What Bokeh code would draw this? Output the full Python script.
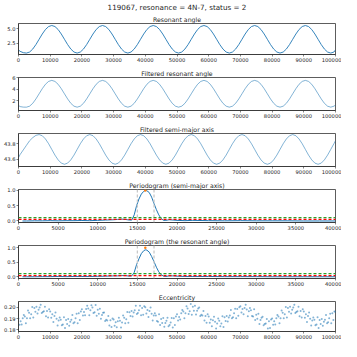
import numpy as np
from bokeh.plotting import figure
from bokeh.models import Title, FixedTicker, PrintfTickFormatter, Range1d, Span
from bokeh.layouts import column
from bokeh.embed import file_html
from bokeh.resources import INLINE

suptitle = "119067, resonance = 4N-7, status = 2"
titles = ["Resonant angle", "Filtered resonant angle", "Filtered semi-major axis",
          "Periodogram (semi-major axis)", "Periodogram (the resonant angle)", "Eccentricity"]

# sample times for the angle / semi-major axis series
t_grid = [0] + list(range(500, 100000, 1000)) + [100000]

angle = [1.30, 1.05, 0.82,
         0.75, 0.93, 1.45, 2.23, 3.15, 4.07, 4.85, 5.37, 5.55, 5.37, 4.85, 4.07, 3.15, 2.23, 1.45, 0.93,
         0.75, 0.93, 1.45, 2.23, 3.15, 4.07, 4.85, 5.37, 5.55, 5.37, 4.85, 4.07, 3.15, 2.23, 1.45, 0.93,
         0.75, 0.93, 1.45, 2.23, 3.15, 4.07, 4.85, 5.37, 5.55, 5.37, 4.85, 4.07, 3.15, 2.23, 1.45, 0.93,
         0.75, 0.93, 1.45, 2.23, 3.15, 4.07, 4.85, 5.37, 5.55, 5.37, 4.85, 4.07, 3.15, 2.23, 1.45, 0.93,
         0.75, 0.93, 1.45, 2.23, 3.15, 4.07, 4.85, 5.37, 5.55, 5.37, 4.85, 4.07, 3.15, 2.23, 1.45, 0.93,
         0.75, 0.93, 1.45, 2.23, 3.15, 4.07, 4.85, 5.37, 5.55, 5.37, 4.85, 4.07, 3.15, 2.23, 1.45, 0.93,
         0.75, 0.93, 1.30]

angle_f = [1.15, 0.95, 0.86,
           0.85, 1.02, 1.52, 2.28, 3.17, 4.06, 4.82, 5.32, 5.50, 5.32, 4.82, 4.06, 3.17, 2.28, 1.52, 1.02,
           0.85, 1.02, 1.52, 2.28, 3.17, 4.06, 4.82, 5.32, 5.50, 5.32, 4.82, 4.06, 3.17, 2.28, 1.52, 1.02,
           0.85, 1.02, 1.52, 2.28, 3.17, 4.06, 4.82, 5.32, 5.50, 5.32, 4.82, 4.06, 3.17, 2.28, 1.52, 1.02,
           0.85, 1.02, 1.52, 2.28, 3.17, 4.06, 4.82, 5.32, 5.50, 5.32, 4.82, 4.06, 3.17, 2.28, 1.52, 1.02,
           0.85, 1.02, 1.52, 2.28, 3.17, 4.06, 4.82, 5.32, 5.50, 5.32, 4.82, 4.06, 3.17, 2.28, 1.52, 1.02,
           0.85, 1.02, 1.52, 2.28, 3.17, 4.06, 4.82, 5.32, 5.50, 5.32, 4.82, 4.06, 3.17, 2.28, 1.52, 1.02,
           0.85, 1.02, 1.22]

semi_a = [43.62, 43.66, 43.72, 43.78, 43.84, 43.88, 43.91,
          43.920, 43.905, 43.863, 43.801, 43.727, 43.653, 43.591, 43.549, 43.534, 43.549, 43.591, 43.653, 43.727, 43.801, 43.863, 43.905,
          43.920, 43.905, 43.863, 43.801, 43.727, 43.653, 43.591, 43.549, 43.534, 43.549, 43.591, 43.653, 43.727, 43.801, 43.863, 43.905,
          43.920, 43.905, 43.863, 43.801, 43.727, 43.653, 43.591, 43.549, 43.534, 43.549, 43.591, 43.653, 43.727, 43.801, 43.863, 43.905,
          43.920, 43.905, 43.863, 43.801, 43.727, 43.653, 43.591, 43.549, 43.534, 43.549, 43.591, 43.653, 43.727, 43.801, 43.863, 43.905,
          43.920, 43.905, 43.863, 43.801, 43.727, 43.653, 43.591, 43.549, 43.534, 43.549, 43.591, 43.653, 43.727, 43.801, 43.863, 43.905,
          43.920, 43.905, 43.863, 43.801, 43.727, 43.653, 43.591, 43.549, 43.534, 43.549, 43.591, 43.653, 43.727, 43.801,
          43.84]

# periodogram: period axis and normalised power
pg_period = [500, 1000, 2000, 3000, 4000, 5000, 6000, 7000, 8000, 9000,
             10000, 11000, 12000, 12500, 13000, 13500, 14000, 14300, 14600, 14900,
             15200, 15500, 15800, 16000, 16200, 16500, 16800, 17100, 17400, 17700,
             18000, 18300, 18600, 19000, 19500, 20000, 21000, 22000, 24000, 26000,
             28000, 30000, 32000, 34000, 36000, 38000, 40000]
pg_semi = [0.0, 0.0, 0.005, 0.005, 0.01, 0.005, 0.01, 0.01, 0.015, 0.01,
           0.02, 0.03, 0.04, 0.05, 0.06, 0.05, 0.03, 0.03, 0.2, 0.5,
           0.72, 0.88, 0.97, 1.0, 0.99, 0.93, 0.78, 0.57, 0.37, 0.2,
           0.08, 0.02, 0.02, 0.04, 0.03, 0.02, 0.01, 0.02, 0.01, 0.005,
           0.01, 0.005, 0.005, 0.005, 0.0, 0.0, 0.0]
pg_angle = [0.0, 0.0, 0.0, 0.005, 0.005, 0.01, 0.005, 0.01, 0.01, 0.01,
            0.015, 0.02, 0.03, 0.03, 0.04, 0.04, 0.02, 0.03, 0.15, 0.42,
            0.62, 0.8, 0.9, 0.93, 0.92, 0.85, 0.7, 0.52, 0.33, 0.17,
            0.07, 0.02, 0.01, 0.03, 0.03, 0.02, 0.01, 0.01, 0.01, 0.005,
            0.005, 0.005, 0.0, 0.0, 0.0, 0.0, 0.0]
period_bounds = [15000, 17100]
level_red = [0.05, 0.04]
level_green = [0.11, 0.11]
peak_period = [16000, 16000]
peak_power = [1.0, 1.0]

# eccentricity samples (units of 1e-4)
ecc_a = [1900, 1847, 1918, 1972, 1938, 1995, 1944, 2024, 1965, 1968,
         1962, 1868, 1897, 1910, 1846, 1886, 1835, 1932, 1903, 1947,
         1983, 1930, 1989, 2019, 1955, 1978, 1897, 1953, 1882, 1885,
         1891, 1821, 1880, 1927, 1893, 1957, 1918, 2015, 1974, 1994,
         2000, 1913, 1942, 1948, 1872, 1895, 1826, 1906, 1865, 1902,
         1938, 1892, 1963, 2010, 1964, 2004, 1935, 1998, 1927, 1923,
         1917, 1830, 1871, 1901, 1855, 1912, 1873, 1977, 1948, 1985,
         2009, 1939, 1980, 1993, 1917, 1933, 1852, 1915, 1856, 1876,
         1900, 1847, 1918, 1972, 1938, 1995, 1944, 2024, 1965, 1968,
         1962, 1868, 1897, 1910, 1846, 1886, 1835, 1932, 1903, 1947, 1960]
ecc_b = [1845, 1902, 1858, 1952, 2003, 1960, 1979, 1949, 2005, 1908,
         1907, 1923, 1837, 1890, 1911, 1851, 1870, 1857, 1943, 1887,
         1928, 1985, 1929, 1999, 2020, 1943, 1932, 1878, 1922, 1825,
         1836, 1876, 1820, 1907, 1958, 1922, 1953, 1940, 2014, 1934,
         1945, 1968, 1882, 1928, 1937, 1860, 1861, 1831, 1905, 1842,
         1883, 1947, 1903, 1990, 2029, 1969, 1970, 1923, 1967, 1863,
         1862, 1885, 1811, 1881, 1920, 1877, 1908, 1902, 1988, 1925,
         1954, 1994, 1920, 1973, 1982, 1898, 1887, 1840, 1896, 1816,
         1845, 1902, 1858, 1952, 2003, 1960, 1979, 1949, 2005, 1908,
         1907, 1923, 1837, 1890, 1911, 1851, 1870, 1857, 1943, 1887]
ecc_c = [1875, 1932, 1903, 1902, 1908, 2005, 1999, 1959, 1920, 1983,
         1937, 1953, 1882, 1840, 1816, 1896, 1890, 1867, 1858, 1962,
         1958, 2015, 1974, 1949, 1925, 1988, 1952, 1888, 1837, 1900,
         1866, 1906, 1865, 1857, 1863, 1967, 1973, 1950, 1929, 2009,
         1975, 1998, 1927, 1878, 1842, 1905, 1881, 1841, 1820, 1917,
         1913, 1977, 1948, 1940, 1934, 2014, 1990, 1933, 1882, 1938,
         1892, 1915, 1856, 1831, 1825, 1922, 1928, 1912, 1903, 2000,
         1984, 2024, 1965, 1923, 1887, 1943, 1907, 1850, 1811, 1891,
         1875, 1932, 1903, 1902, 1908, 2005, 1999, 1959, 1920, 1983,
         1937, 1953, 1882, 1840, 1816, 1896, 1890, 1867, 1858, 1962]

time_ticks = [0, 10000, 20000, 30000, 40000, 50000, 60000, 70000, 80000, 90000, 100000]
period_ticks = [0, 5000, 10000, 15000, 20000, 25000, 30000, 35000, 40000]

BLUE = "#1f77b4"
FONT = "DejaVu Sans"
TXT = "#262626"


def make_fig(h, top, title, xr, yr, xticks, yticks, yfmt, sup=None):
    p = figure(width=341, height=h, output_backend="svg", toolbar_location=None,
               x_range=Range1d(*xr), y_range=Range1d(*yr),
               min_border_left=15, min_border_right=6, min_border_top=top, min_border_bottom=10)
    t = Title(text=title, align="center", text_font=FONT, text_font_size="6.2px",
              text_font_style="normal", text_color=TXT, standoff=2, offset=0)
    p.add_layout(t, "above")
    if sup:
        st = Title(text=sup, align="center", text_font=FONT, text_font_size="7.2px",
                   text_font_style="normal", text_color=TXT, standoff=1, offset=0)
        p.add_layout(st, "above")
    p.grid.visible = False
    p.outline_line_color = "#333333"
    p.outline_line_width = 0.8
    p.background_fill_color = "white"
    p.border_fill_color = "white"
    for ax in (p.xaxis[0], p.yaxis[0]):
        ax.axis_line_color = "#333333"
        ax.axis_line_width = 0.8
        ax.major_tick_line_color = "#333333"
        ax.major_tick_line_width = 0.6
        ax.major_tick_out = 2
        ax.major_tick_in = 0
        ax.minor_tick_line_color = None
        ax.major_label_text_font = FONT
        ax.major_label_text_font_size = "5.2px"
        ax.major_label_text_color = TXT
        ax.major_label_standoff = 1
    p.xaxis.ticker = FixedTicker(ticks=xticks)
    p.xaxis.formatter = PrintfTickFormatter(format="%d")
    p.yaxis.ticker = FixedTicker(ticks=yticks)
    p.yaxis.formatter = PrintfTickFormatter(format=yfmt)
    return p


p1 = make_fig(64, 21, titles[0], (0, 100000), (0.5, 5.9), time_ticks, [2.5, 5.0], "%.1f", sup=suptitle)
p1.line(t_grid, angle, line_color=BLUE, line_width=0.9)

p2 = make_fig(56, 13, titles[1], (0, 100000), (0.27, 6.0), time_ticks, [2, 4, 6], "%d")
p2.line(t_grid, angle_f, line_color=BLUE, line_width=0.8, line_alpha=0.7)

p3 = make_fig(56, 13, titles[2], (0, 100000), (43.505, 43.934), time_ticks, [43.6, 43.8], "%.1f")
p3.line(t_grid, semi_a, line_color=BLUE, line_width=0.8, line_alpha=0.7)

figs_pg = []
for i, (ttl, power, yr) in enumerate([(titles[3], pg_semi, (-0.05, 1.03)),
                                      (titles[4], pg_angle, (-0.06, 1.08))]):
    p = make_fig(56, 13, ttl, (0, 40000), yr, period_ticks, [0.0, 0.5, 1.0], "%.1f")
    for xb in period_bounds:
        p.add_layout(Span(location=xb, dimension="height", line_color="#c8c8c8",
                          line_width=1.3, line_dash="3 2"))
    p.line(pg_period, power, line_color=BLUE, line_width=1.0)
    p.add_layout(Span(location=level_green[i], dimension="width", line_color="#2ca02c",
                      line_width=1.3, line_dash="3 2"))
    p.add_layout(Span(location=level_red[i], dimension="width", line_color="#ff0000",
                      line_width=1.3, line_dash="3 2"))
    p.scatter([peak_period[i]], [peak_power[i]], size=2.5, color="#ff7f0e", line_color=None)
    figs_pg.append(p)
p4, p5 = figs_pg

p6 = make_fig(53, 13, titles[5], (0, 100000), (0.1784, 0.2052), time_ticks, [0.18, 0.19, 0.20], "%.2f")
xa = list(range(0, 100001, 1000))
xb = list(range(333, 100000, 1000))
xc = list(range(667, 100000, 1000))
ea = np.array(ecc_a) / 10000.0
eb = np.array(ecc_b) / 10000.0
ec = np.array(ecc_c) / 10000.0
for xx, ee in ((xa, ea), (xb, eb), (xc, ec)):
    p6.scatter(xx, ee, size=2.0, color=BLUE, alpha=0.55, line_color=None)

layout = column(p1, p2, p3, p4, p5, p6, spacing=0)
open("out.html", "w").write(file_html(layout, INLINE))
